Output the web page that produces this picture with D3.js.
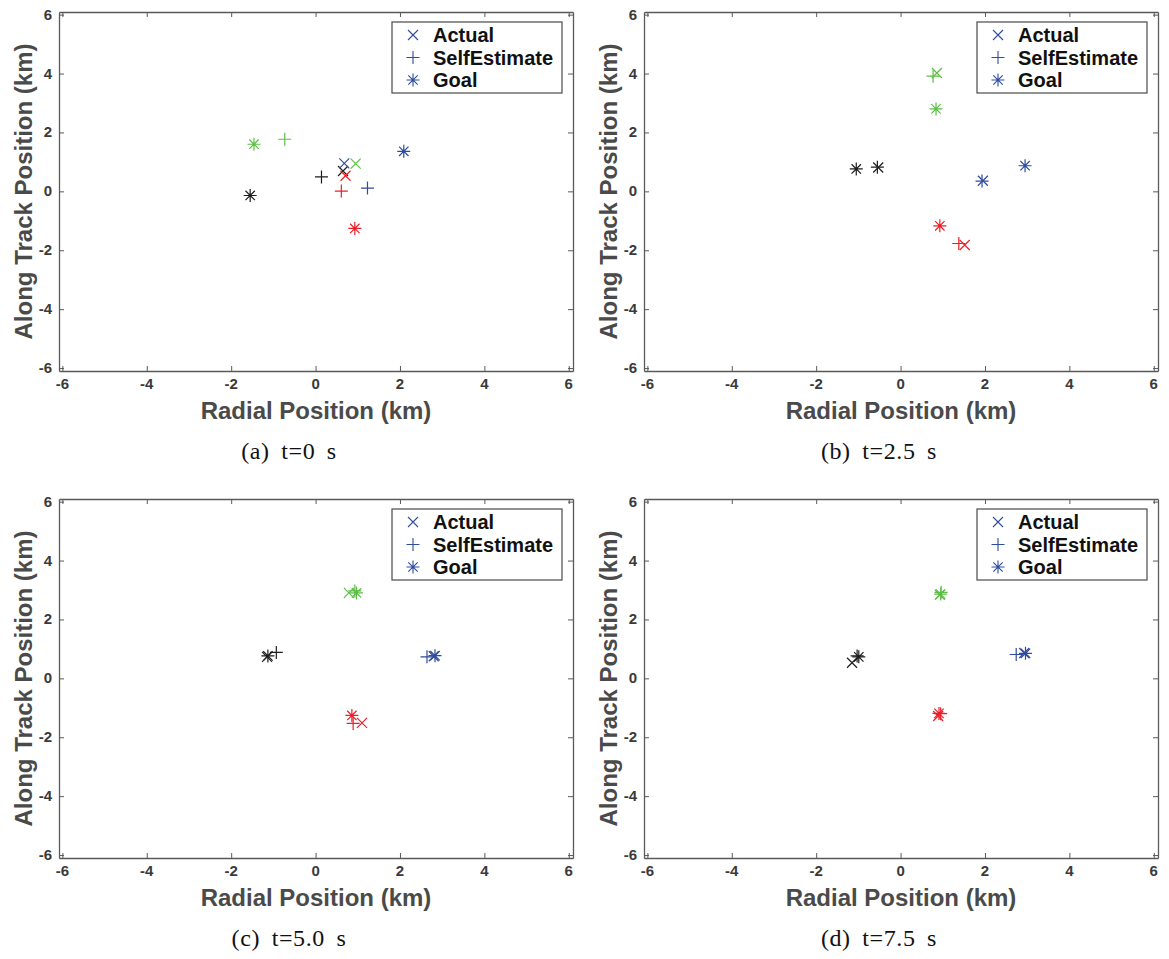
<!DOCTYPE html>
<html>
<head>
<meta charset="utf-8">
<script src="https://cdn.jsdelivr.net/npm/d3@7"></script>
<style>
	body { margin: 0; background: #fff; }
	svg { display: block; }
</style>
</head>
<body>
<svg id="chart" width="1169" height="959"></svg>
<script>
'use strict';

// one entry per panel, each with [x, y] per agent (black, green, red, blue), km
const captions = ['(a) t=0 s', '(b) t=2.5 s', '(c) t=5.0 s', '(d) t=7.5 s'];
const agentColors = ['#1e1e1e', '#5cbf45', '#ec1f27', '#2f4c9f'];
const tickValues = [-6, -4, -2, 0, 2, 4, 6];
const tickLabels = ['-6', '-4', '-2', '0', '2', '4', '6'];
const legendLabels = ['Actual', 'SelfEstimate', 'Goal'];

const actual = [
	[[0.65, 0.69], [0.95, 0.94], [0.71, 0.53], [0.68, 0.95]],
	[[-0.53, 0.81], [0.86, 4.02], [1.52, -1.82], [1.95, 0.36]],
	[[-1.15, 0.73], [0.79, 2.90], [1.10, -1.51], [2.80, 0.75]],
	[[-1.15, 0.53], [0.93, 2.84], [0.89, -1.28], [2.93, 0.86]]
];
const selfEstimate = [
	[[0.14, 0.49], [-0.73, 1.77], [0.61, 0.01], [1.23, 0.11]],
	[[-0.55, 0.82], [0.77, 3.91], [1.38, -1.77], [1.93, 0.35]],
	[[-0.93, 0.88], [0.93, 2.97], [0.89, -1.53], [2.64, 0.73]],
	[[-1.03, 0.76], [0.96, 2.92], [0.95, -1.20], [2.74, 0.81]]
];
const goal = [
	[[-1.55, -0.14], [-1.46, 1.60], [0.93, -1.26], [2.09, 1.36]],
	[[-1.05, 0.76], [0.84, 2.80], [0.93, -1.17], [2.95, 0.87]],
	[[-1.13, 0.76], [0.97, 2.90], [0.86, -1.26], [2.83, 0.77]],
	[[-0.99, 0.73], [0.95, 2.86], [0.91, -1.19], [2.96, 0.85]]
];

const plotWidth = 514;
const plotHeight = 359;
const panelOrigins = [[59, 12], [644, 12], [59, 499], [644, 499]];
const captionCenters = [289, 879];
const tickFont = 'bold 15px "Liberation Sans", Arial, sans-serif';

const svg = d3.select('#chart');

const x = d3.scaleLinear().domain([-6.08, 6.1]).range([0, plotWidth]);
const y = d3.scaleLinear().domain([-6.1, 6.09]).range([plotHeight, 0]);

function markerPath(type) {
	const p = d3.path();
	const plus = 6.5, cross = 5, star = 4.7;
	if (type == 'plus' || type == 'star') {
		p.moveTo(-plus, 0); p.lineTo(plus, 0);
		p.moveTo(0, -plus); p.lineTo(0, plus);
	}
	const c = type == 'star' ? star : cross;
	if (type == 'cross' || type == 'star') {
		p.moveTo(-c, -c); p.lineTo(c, c);
		p.moveTo(-c, c); p.lineTo(c, -c);
	}
	return p.toString();
}

const markerSets = [
	{ type: 'cross', data: actual },
	{ type: 'plus', data: selfEstimate },
	{ type: 'star', data: goal }
];

function drawPanel(i) {
	const [ox, oy] = panelOrigins[i];
	const g = svg.append('g').attr('transform', `translate(${ox},${oy})`);

	const axisStyle = (sel) => {
		sel.selectAll('path').attr('stroke', '#5a5a5a').attr('stroke-width', 1.3);
		sel.selectAll('line').attr('stroke', '#5a5a5a').attr('stroke-width', 1);
		sel.selectAll('.tick text').remove();
	};

	g.append('g').attr('transform', `translate(0,${plotHeight})`)
		.call(d3.axisBottom(x).tickValues(tickValues).tickSize(-5).tickSizeOuter(0))
		.call(axisStyle);
	g.append('g')
		.call(d3.axisLeft(y).tickValues(tickValues).tickSize(-5).tickSizeOuter(0))
		.call(axisStyle);
	g.append('g')
		.call(d3.axisTop(x).tickValues(tickValues).tickSize(-5).tickSizeOuter(0))
		.call(axisStyle);
	g.append('g').attr('transform', `translate(${plotWidth},0)`)
		.call(d3.axisRight(y).tickValues(tickValues).tickSize(-5).tickSizeOuter(0))
		.call(axisStyle);
	g.selectAll('.domain').attr('fill', 'none');

	// tick labels
	g.append('g').selectAll('text')
		.data(tickValues)
		.join('text')
		.attr('x', d => x(d))
		.attr('y', plotHeight + 18)
		.attr('text-anchor', 'middle')
		.attr('fill', '#3a3a3a')
		.style('font', tickFont)
		.text((d, k) => tickLabels[k]);
	g.append('g').selectAll('text')
		.data(tickValues)
		.join('text')
		.attr('x', -7)
		.attr('y', d => y(d) + 5)
		.attr('text-anchor', 'end')
		.attr('fill', '#3a3a3a')
		.style('font', tickFont)
		.text((d, k) => tickLabels[k]);

	g.append('text')
		.attr('x', plotWidth / 2)
		.attr('y', plotHeight + 48)
		.attr('text-anchor', 'middle')
		.attr('fill', '#4a4a4a')
		.style('font', 'bold 24px "Liberation Sans", Arial, sans-serif')
		.text('Radial Position (km)');

	g.append('text')
		.attr('transform', `translate(-27,${plotHeight / 2}) rotate(-90)`)
		.attr('text-anchor', 'middle')
		.attr('fill', '#4a4a4a')
		.style('font', 'bold 24px "Liberation Sans", Arial, sans-serif')
		.text('Along Track Position (km)');

	for (const set of markerSets) {
		g.append('g').selectAll('path')
			.data(set.data[i])
			.join('path')
			.attr('transform', d => `translate(${x(d[0])},${y(d[1])})`)
			.attr('d', markerPath(set.type))
			.attr('fill', 'none')
			.attr('stroke', (d, j) => agentColors[j])
			.attr('stroke-width', 1.2);
	}

	// legend
	const legend = g.append('g').attr('transform', 'translate(333,10)');
	legend.append('rect')
		.attr('width', 170)
		.attr('height', 71)
		.attr('fill', '#fff')
		.attr('stroke', '#4a4a4a')
		.attr('stroke-width', 1.2);
	legendLabels.forEach((label, k) => {
		const rowY = 13 + k * 22.5;
		legend.append('path')
			.attr('transform', `translate(21,${rowY})`)
			.attr('d', markerPath(markerSets[k].type))
			.attr('fill', 'none')
			.attr('stroke', agentColors[3])
			.attr('stroke-width', 1.1);
		legend.append('text')
			.attr('x', 41)
			.attr('y', rowY + 7)
			.attr('fill', '#111')
			.style('font', 'bold 20px "Liberation Sans", Arial, sans-serif')
			.text(label);
	});

	svg.append('text')
		.attr('x', captionCenters[i % 2])
		.attr('y', oy + plotHeight + 88)
		.attr('text-anchor', 'middle')
		.attr('fill', '#111')
		.style('font', '24px "Liberation Serif", "DejaVu Serif", serif')
		.style('word-spacing', '5px')
		.style('letter-spacing', '0.6px')
		.text(captions[i]);
}

for (let i = 0; i < captions.length; i++) {
	drawPanel(i);
}
</script>
</body>
</html>
